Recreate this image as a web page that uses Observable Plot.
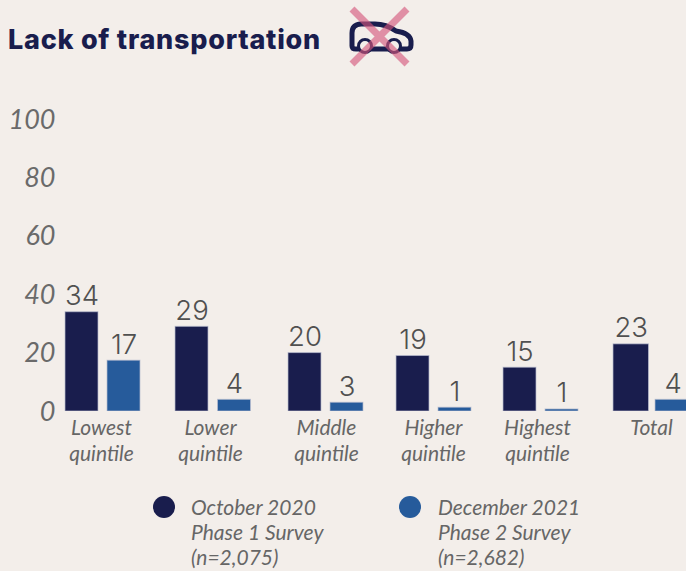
<!DOCTYPE html>
<html>
<head>
<meta charset="utf-8">
<script src="https://cdn.jsdelivr.net/npm/d3@7"></script>
<script src="https://cdn.jsdelivr.net/npm/@observablehq/plot@0.6"></script>
<style>
  html, body { margin: 0; padding: 0; background: #f3eeea; }
  #page { position: relative; width: 686px; height: 571px; overflow: hidden; }
  #title { position: absolute; left: 8px; top: 23px; font: 800 27px/34px Inter, sans-serif; color: #191d4d; letter-spacing: 0.75px; white-space: nowrap; }
  #icon { position: absolute; left: 340px; top: 0; }
  #chart { position: absolute; left: 0; top: 90.5px; }
  .lg { position: absolute; top: 494px; font: italic 400 21px/25px Lato, sans-serif; color: #666; white-space: pre; }
  .dot { position: absolute; top: 496px; width: 22px; height: 22px; border-radius: 50%; }
</style>
</head>
<body>
<div id="page">
  <div id="title">Lack of transportation</div>
  <svg id="icon" width="80" height="72" viewBox="340 0 80 72">
    <path d="M352 46 V33 Q352 24.5 361 24 H375 Q386 24 396 31 Q410 33 411 41 V45 Q411 49 407 49 H356 Q352 49 352 46 Z" fill="none" stroke="#191d4d" stroke-width="5" stroke-linejoin="round"/>
    <circle cx="365" cy="46" r="6.5" fill="#f3eeea" stroke="#191d4d" stroke-width="3"/>
    <circle cx="394" cy="46" r="6.5" fill="#f3eeea" stroke="#191d4d" stroke-width="3"/>
    <path d="M352 9 L407 64 M407 9 L352 64" stroke="#d5567c" stroke-width="7" opacity="0.62"/>
  </svg>
  <div id="chart"></div>
  <span class="dot" style="left:153px;background:#191d4d"></span>
  <div class="lg" style="left:191px">October 2020
Phase 1 Survey
(n=2,075)</div>
  <span class="dot" style="left:399px;background:#265b9b"></span>
  <div class="lg" style="left:438px">December 2021
Phase 2 Survey
(n=2,682)</div>
</div>
<script>
// Data
const categories = ["Lowest\nquintile", "Lower\nquintile", "Middle\nquintile", "Higher\nquintile", "Highest\nquintile", "Total"];
const october2020 = [34, 29, 20, 19, 15, 23];
const december2021 = [17.4, 4, 3, 1.3, 0.7, 4];
const yTicks = [0, 20, 40, 60, 80, 100];

// Layout (x scale units equal page pixels; the reference spaces groups unevenly)
const groupStart = [65, 175, 288, 396, 503, 613];
const blueStart = [107, 217.5, 330, 438, 545, 655];
const barWidths = [33, 33, 33, 33, 33, 35.5];
const labelCenter = [101, 210, 326, 433, 537, 651];

const fmt = d3.format(".0f");
const rows = categories.flatMap((category, i) => [
  {category, value: october2020[i], x1: groupStart[i], x2: groupStart[i] + barWidths[i], fill: "#191d4d"},
  {category, value: december2021[i], x1: blueStart[i], x2: blueStart[i] + barWidths[i], fill: "#265b9b"}
]);
const groups = categories.map((category, i) => ({category, x: labelCenter[i]}));

const chart = Plot.plot({
  width: 686,
  height: 390,
  marginLeft: 55,
  marginRight: 0,
  marginTop: 28,
  marginBottom: 70,
  style: {background: "transparent", overflow: "visible"},
  x: {domain: [55, 686], axis: null},
  y: {domain: [0, 100], axis: null},
  marks: [
    Plot.rect(rows, {
      x1: "x1", x2: "x2", y1: 0, y2: "value",
      fill: "fill", stroke: "#b9bdd0", strokeWidth: 1, strokeOpacity: 0.7, clip: true
    }),
    Plot.text(rows, {
      x: d => (d.x1 + d.x2) / 2, y: "value", text: d => fmt(d.value),
      dy: -7, lineAnchor: "bottom", fontSize: 27.5, fontWeight: 300,
      fontFamily: "Inter, sans-serif", fill: "#505050"
    }),
    Plot.axisY({
      ticks: yTicks, tickSize: 0, tickPadding: 0, anchor: "left", label: null, dy: 0.5,
      fontSize: 27, fontStyle: "italic", fontFamily: "Lato, sans-serif", fill: "#6a6a6a"
    }),
    Plot.text(groups, {
      x: "x", y: 0, text: "category",
      dy: 5, lineAnchor: "top", lineHeight: 1.24, fontSize: 21, fontStyle: "italic",
      fontFamily: "Lato, sans-serif", fill: "#666"
    })
  ]
});
document.getElementById("chart").appendChild(chart);
</script>
</body>
</html>
